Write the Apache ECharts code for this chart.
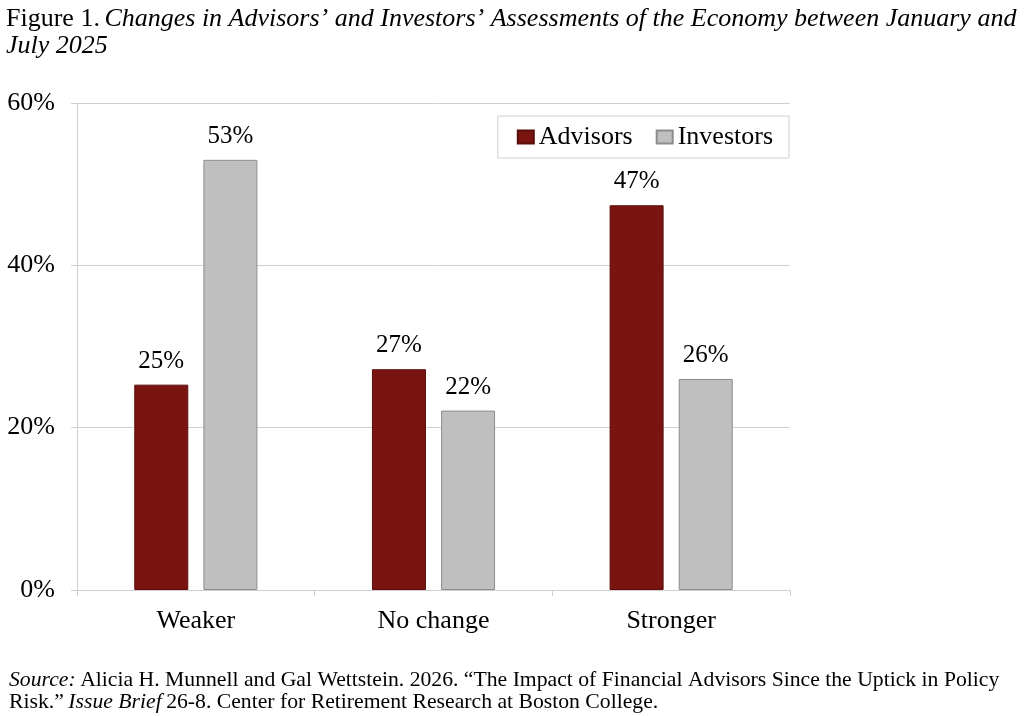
<!DOCTYPE html>
<html>
<head>
<meta charset="utf-8">
<title>Figure 1</title>
<script src="https://cdn.jsdelivr.net/npm/echarts@6/dist/echarts.min.js"></script>
<style>
  html, body { margin: 0; padding: 0; width: 100%; height: 100%; overflow: hidden; background: #fff; }
  #main { width: 1024px; height: 716px; }
</style>
</head>
<body>
<div id="main"></div>
<script>
  var categories = ['Weaker', 'No change', 'Stronger'];
  var advisors = [25.3, 27.2, 47.4];
  var investors = [53.0, 22.1, 26.0];
  var yTicks = [0, 20, 40, 60];

  var serif = '"Liberation Serif", "Times New Roman", serif';

  var chart = echarts.init(document.getElementById('main'));
  chart.setOption({
    textStyle: { fontFamily: serif },
    title: [{
      left: 1, top: 1,
      text: '{n|Figure 1.} {i|Changes in Advisors\u2019 and Investors\u2019 Assessments of the Economy between January and}\n{i|July 2025}',
      textStyle: {
        rich: {
          n: { fontFamily: serif, fontSize: 26, fontWeight: 'normal', color: '#000', lineHeight: 27 },
          i: { fontFamily: serif, fontSize: 26, fontWeight: 'normal', fontStyle: 'italic', color: '#000', lineHeight: 27 }
        }
      }
    }, {
      left: 4, top: 664,
      text: '{i|Source:} {n|Alicia H. Munnell and Gal Wettstein. 2026. \u201cThe Impact of Financial Advisors Since the Uptick in Policy}\n{n|Risk.\u201d} {i|Issue Brief} {n|26-8. Center for Retirement Research at Boston College.}',
      textStyle: {
        rich: {
          n: { fontFamily: serif, fontSize: 21.7, fontWeight: 'normal', color: '#000', lineHeight: 22 },
          i: { fontFamily: serif, fontSize: 21.7, fontWeight: 'normal', fontStyle: 'italic', color: '#000', lineHeight: 22 }
        }
      }
    }],
    legend: {
      right: 235, top: 116,
      padding: [8, 16, 8, 19],
      borderColor: '#d0d0d0', borderWidth: 1,
      itemWidth: 16, itemHeight: 13, itemGap: 23,
      icon: 'rect',
      textStyle: { fontFamily: serif, fontSize: 26, color: '#000' },
      data: ['Advisors', 'Investors']
    },
    grid: { left: 77, right: 234, top: 103, bottom: 126 },
    xAxis: {
      type: 'category',
      data: categories,
      axisLine: { lineStyle: { color: '#d0d0d0' } },
      axisTick: { show: true, length: 6, lineStyle: { color: '#d0d0d0' } },
      axisLabel: { fontFamily: serif, fontSize: 26, color: '#000', margin: 18 }
    },
    yAxis: {
      type: 'value',
      min: yTicks[0], max: yTicks[yTicks.length - 1], interval: 20,
      axisLine: { show: true, lineStyle: { color: '#d0d0d0' } },
      axisTick: { show: true, length: 6, lineStyle: { color: '#d0d0d0' } },
      splitLine: { lineStyle: { color: '#d0d0d0' } },
      axisLabel: { fontFamily: serif, fontSize: 26, color: '#000', margin: 22, formatter: '{value}%' }
    },
    series: [{
      name: 'Advisors',
      type: 'bar',
      data: advisors,
      barWidth: 54,
      barGap: '28%',
      itemStyle: { color: '#7a1410', borderColor: '#5a0e0b', borderWidth: 1 },
      label: {
        show: true, position: 'top', distance: 11,
        fontFamily: serif, fontSize: 25, color: '#000',
        formatter: function (p) { return Math.round(p.value) + '%'; }
      }
    }, {
      name: 'Investors',
      type: 'bar',
      data: investors,
      barWidth: 54,
      itemStyle: { color: '#bfbfbf', borderColor: '#8c8c8c', borderWidth: 1 },
      label: {
        show: true, position: 'top', distance: 11,
        fontFamily: serif, fontSize: 25, color: '#000',
        formatter: function (p) { return Math.round(p.value) + '%'; }
      }
    }]
  });
</script>
</body>
</html>
